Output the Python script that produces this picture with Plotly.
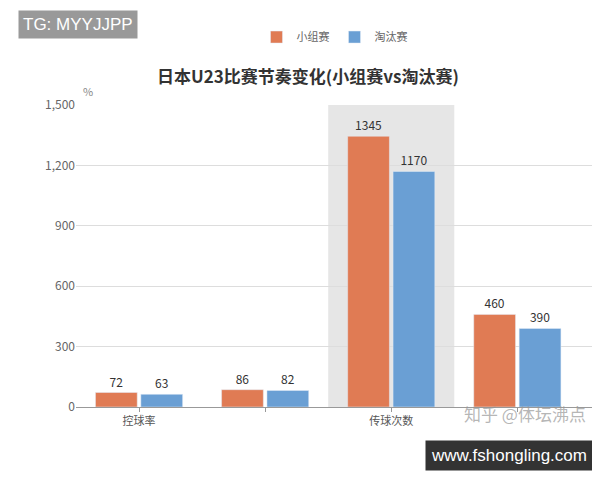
import plotly.graph_objects as go

categories = ["控球率", "射门次数", "传球次数", "跑动距离"]
tick_labels = ["控球率", "", "传球次数", ""]
group_vals = [72, 86, 1345, 460]
knockout_vals = [63, 82, 1170, 390]

fig = go.Figure()
fig.add_trace(go.Bar(name="小组赛", x=categories, y=group_vals, marker_color="#E07B54",
                     text=group_vals, textposition="outside", textfont=dict(size=12, color="#333")))
fig.add_trace(go.Bar(name="淘汰赛", x=categories, y=knockout_vals, marker_color="#6A9FD4",
                     text=knockout_vals, textposition="outside", textfont=dict(size=12, color="#333")))

fig.add_shape(type="rect", xref="x", yref="paper", x0=1.5, x1=2.5, y0=0, y1=1,
              fillcolor="#e6e6e6", line_width=0, layer="below")

fig.update_layout(
    width=600, height=480, barmode="group", bargap=0.28, bargroupgap=0.08,
    plot_bgcolor="white", paper_bgcolor="white",
    font=dict(family="Noto Sans CJK SC", color="#666"),
    margin=dict(l=68, r=15, t=97, b=81),
    title=dict(text="<b>日本U23比赛节奏变化(小组赛vs淘汰赛)</b>", x=0.5, y=0.857, xanchor="center",
               yanchor="middle", font=dict(size=17, color="#333")),
    legend=dict(orientation="h", x=0.5, xanchor="center", y=1.225, yanchor="middle",
                font=dict(size=11, color="#666"), itemwidth=30),
    xaxis=dict(tickmode="array", tickvals=categories, ticktext=tick_labels, range=[-0.5, 3.6],
               showline=True, linecolor="#999", tickfont=dict(size=11, color="#555"),
               ticks="outside", ticklen=4, tickcolor="#999"),
    yaxis=dict(range=[0, 1500], tickvals=[0, 300, 600, 900, 1200, 1500], tickformat=",",
               showgrid=True, gridcolor="#ddd", zeroline=False, tickfont=dict(size=12, color="#666")),
)
fig.add_annotation(text="%", xref="paper", yref="paper", x=0.01, y=1.08, showarrow=False,
                   font=dict(size=11, color="#888"))
fig.add_annotation(text="TG: MYYJJPP", xref="paper", yref="paper", x=-0.112, y=1.315, xanchor="left",
                   yanchor="top", showarrow=False, bgcolor="#999", font=dict(size=17, color="white",
                   family="Liberation Sans"), borderpad=4)
fig.add_annotation(text="www.fshongling.com", xref="paper", yref="paper", x=1.0, y=-0.159,
                   xanchor="right", yanchor="middle", showarrow=False, bgcolor="#333",
                   font=dict(size=17, color="white", family="Liberation Sans"), borderpad=5)
fig.add_annotation(text="知乎 @体坛沸点", xref="paper", yref="paper", x=0.99, y=-0.02,
                   xanchor="right", yanchor="middle", showarrow=False,
                   font=dict(size=17, color="rgba(150,150,150,0.7)"))
fig.write_html("out.html")
